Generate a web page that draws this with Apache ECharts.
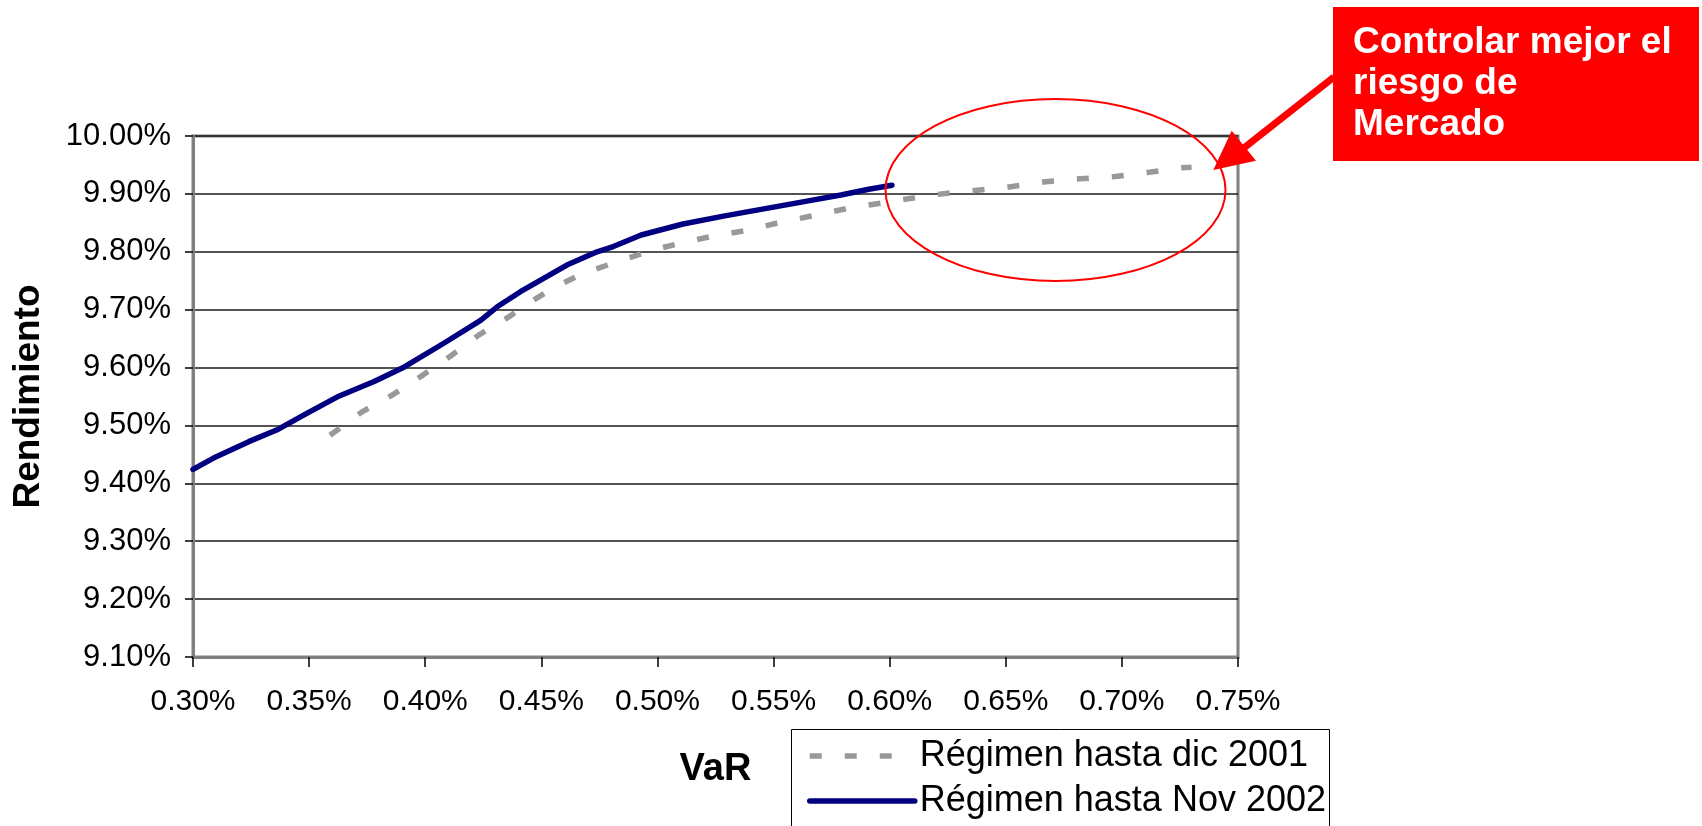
<!DOCTYPE html>
<html>
<head>
<meta charset="utf-8">
<title>Rendimiento vs VaR</title>
<script src="https://cdn.jsdelivr.net/npm/echarts@6/dist/echarts.min.js"></script>
<style>
  html, body { margin: 0; padding: 0; background: #ffffff; }
  #chart { width: 1702px; height: 826px; }
</style>
</head>
<body>
<div id="chart"></div>
<script>
// VaR (%) and rendimiento (%) for each régimen
const varDic2001 = [0.359, 0.373, 0.386, 0.399, 0.411, 0.423, 0.435, 0.448, 0.455, 0.468, 0.483, 0.497, 0.510, 0.525, 0.540, 0.554, 0.568, 0.583, 0.598, 0.604, 0.618, 0.632, 0.650, 0.667, 0.682, 0.697, 0.711, 0.725, 0.730];
const renDic2001 = [9.483, 9.524, 9.553, 9.587, 9.620, 9.656, 9.685, 9.720, 9.737, 9.763, 9.783, 9.802, 9.815, 9.828, 9.838, 9.852, 9.863, 9.876, 9.885, 9.889, 9.898, 9.904, 9.911, 9.921, 9.926, 9.930, 9.937, 9.945, 9.946];

const varNov2002 = [0.300, 0.310, 0.324, 0.336, 0.349, 0.363, 0.378, 0.391, 0.408, 0.424, 0.431, 0.441, 0.461, 0.474, 0.481, 0.493, 0.511, 0.529, 0.547, 0.565, 0.579, 0.591, 0.601];
const renNov2002 = [9.424, 9.446, 9.472, 9.492, 9.521, 9.551, 9.576, 9.601, 9.642, 9.682, 9.705, 9.731, 9.777, 9.800, 9.809, 9.829, 9.848, 9.862, 9.875, 9.888, 9.898, 9.908, 9.915];

const seriesNames = ['Régimen hasta dic 2001', 'Régimen hasta Nov 2002'];
const xAxisRange = { min: 0.30, max: 0.75, step: 0.05 };
const yAxisRange = { min: 9.10, max: 10.00, step: 0.10 };
const calloutText = 'Controlar mejor el\nriesgo de\nMercado';

const FONT = '"Liberation Sans", Arial, Helvetica, sans-serif';
const pairs = (xs, ys) => xs.map((x, i) => [x, ys[i]]);
const pct = v => v.toFixed(2) + '%';

const dicLine = { color: '#999999', width: 5.5, type: [12, 23], cap: 'butt' };
const novLine = { color: '#000080', width: 5.5, cap: 'round', join: 'round' };

const chart = echarts.init(document.getElementById('chart'), null, { renderer: 'canvas' });

chart.setOption({
  animation: false,
  backgroundColor: '#ffffff',
  grid: {
    left: 193, right: 464, top: 136, bottom: 169,
    show: true, borderColor: '#808080', borderWidth: 3, backgroundColor: 'transparent'
  },
  xAxis: {
    type: 'value',
    min: xAxisRange.min, max: xAxisRange.max, interval: xAxisRange.step,
    name: 'VaR', nameLocation: 'middle', nameGap: 94,
    nameTextStyle: { fontFamily: FONT, fontSize: 38, fontWeight: 'bold', color: '#000' },
    axisLine: { show: true, lineStyle: { color: '#808080', width: 3 } },
    axisTick: { show: true, inside: false, length: 10, lineStyle: { color: '#000', width: 1.5 } },
    axisLabel: { formatter: pct, fontFamily: FONT, fontSize: 30, color: '#000', margin: 30 },
    splitLine: { show: false }
  },
  yAxis: {
    type: 'value',
    min: yAxisRange.min, max: yAxisRange.max, interval: yAxisRange.step,
    name: 'Rendimiento', nameLocation: 'middle', nameGap: 146, nameRotate: 90,
    nameTextStyle: { fontFamily: FONT, fontSize: 37, fontWeight: 'bold', color: '#000' },
    axisLine: { show: true, lineStyle: { color: '#808080', width: 3 } },
    axisTick: { show: true, inside: false, length: 8, lineStyle: { color: '#000', width: 1.5 } },
    axisLabel: { formatter: pct, fontFamily: FONT, fontSize: 31, color: '#000', margin: 22 },
    splitLine: { show: true, lineStyle: { color: '#1a1a1a', width: 1.5 } }
  },
  legend: {
    orient: 'vertical',
    left: 807, top: 738,
    itemWidth: 105, itemHeight: 14, itemGap: 9,
    padding: 0,
    selectedMode: false,
    textStyle: { fontFamily: FONT, fontSize: 36, color: '#000' },
    data: [
      { name: seriesNames[0], lineStyle: dicLine, itemStyle: { opacity: 0 } },
      { name: seriesNames[1], lineStyle: novLine, itemStyle: { opacity: 0 } }
    ]
  },
  series: [
    {
      name: seriesNames[0],
      type: 'line',
      data: pairs(varDic2001, renDic2001),
      symbol: 'none', showSymbol: false,
      lineStyle: dicLine,
      itemStyle: { color: dicLine.color },
      z: 3
    },
    {
      name: seriesNames[1],
      type: 'line',
      data: pairs(varNov2002, renNov2002),
      symbol: 'none', showSymbol: false,
      lineStyle: novLine,
      itemStyle: { color: novLine.color },
      z: 4
    }
  ],
  graphic: [
    // frame around the legend, running off the bottom edge
    {
      type: 'rect', z: 1,
      shape: { x: 791.5, y: 729.5, width: 538, height: 120 },
      style: { fill: 'none', stroke: '#000000', lineWidth: 1 }
    },
    // highlight ring around the upper tail of the dic 2001 frontier
    {
      type: 'ellipse', z: 10,
      shape: { cx: 1055.5, cy: 190, rx: 170, ry: 91 },
      style: { fill: 'none', stroke: '#ff0000', lineWidth: 2 }
    },
    // callout box
    {
      type: 'rect', z: 10,
      shape: { x: 1333, y: 7, width: 366, height: 154 },
      style: { fill: '#ff0000' }
    },
    {
      type: 'text', z: 11,
      x: 1353, y: 22,
      style: {
        text: calloutText,
        fill: '#ffffff',
        font: 'bold 37px ' + FONT,
        lineHeight: 41,
        verticalAlign: 'top',
        align: 'left'
      }
    },
    // arrow from the callout to the end of the curve
    {
      type: 'line', z: 11,
      shape: { x1: 1334, y1: 77, x2: 1240, y2: 151 },
      style: { stroke: '#ff0000', lineWidth: 7 }
    },
    {
      type: 'polygon', z: 11,
      shape: { points: [[1213.3, 170], [1231.7, 130.7], [1256, 160.7]] },
      style: { fill: '#ff0000' }
    }
  ]
});
</script>
</body>
</html>
